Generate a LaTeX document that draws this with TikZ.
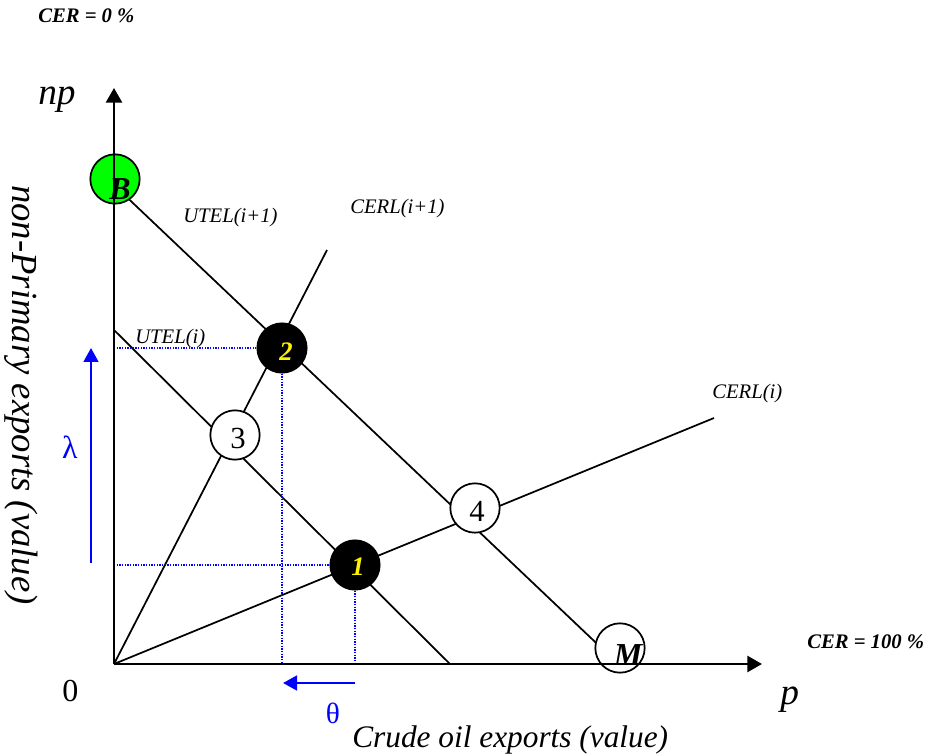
\documentclass[tikz,border=0pt]{standalone}
\usepackage{fontspec}
\setmainfont{Liberation Serif}
\usetikzlibrary{arrows.meta}
\begin{document}
\begin{tikzpicture}[x=0.75pt,y=-0.75pt,
  axis/.style={line width=2pt,-{Triangle[width=12pt,length=11pt]}},
  ln/.style={line width=1.3pt},
  guide/.style={blue,line width=1pt,dash pattern=on 1pt off 1pt},
  shiftarrow/.style={blue,line width=2pt,-{Triangle[width=11pt,length=10.5pt]}},
  pt/.style={circle,draw,line width=1.3pt,minimum size=37pt,inner sep=0pt,fill=white},
  digit/.style={font=\fontsize{23}{25}\selectfont},
  eqtxt/.style={text=yellow,font=\fontsize{20}{22}\selectfont\bfseries\itshape},
  endtxt/.style={font=\fontsize{24}{26}\selectfont\bfseries\itshape},
  lbl/.style={font=\fontsize{15.5}{18}\selectfont\itshape},
  cer/.style={font=\fontsize{15.5}{18}\selectfont\bfseries\itshape},
  big/.style={font=\fontsize{28}{30}\selectfont\itshape},
]
\useasboundingbox (0,0) rectangle (932,755);

% key coordinates
\coordinate (O) at (114,664);
\coordinate (Ytop) at (114,88);
\coordinate (Xend) at (762,664);
\coordinate (UBs) at (115,186);
\coordinate (UMe) at (612,658);
\coordinate (UIs) at (114,330);
\coordinate (UIe) at (450,664);
\coordinate (C1e) at (327,250);
\coordinate (C0e) at (714,418);
\coordinate (Lb) at (91,563);
\coordinate (Lt) at (91,348);
\coordinate (Tr) at (355,683);
\coordinate (Tl) at (283,683);

% lines
\draw[ln] (UBs) -- (UMe);
\draw[ln] (UIs) -- (UIe);
\draw[ln] (O) -- (C1e);
\draw[ln] (O) -- (C0e);

% circles
\node[pt,fill={rgb,255:red,0;green,255;blue,0}] (B) at (115,179) {};
\node[pt] (M) at (620,648) {};
\node[pt,fill=black] (p2) at (282,348) {};
\node[pt,fill=black] (p1) at (355,565) {};
\node[pt] (p3) at (235,435) {};
\node[pt] (p4) at (475,508) {};

\node[endtxt] (Bt) at (120,189) {B};
\node[endtxt] (Mt) at (628,655) {M};
\node[eqtxt] (p2t) at (286,352) {2};
\node[eqtxt] (p1t) at (358,567) {1};
\node[digit] (p3t) at (238,438) {3};
\node[digit] (p4t) at (477,511) {4};

% guides
\draw[guide] (p2 -| O) -- (p2.west);
\draw[guide] (p2.south) -- (p2 |- O);
\draw[guide] (p1 -| O) -- (p1.west);
\draw[guide] (p1.south) -- (p1 |- O);

% axes
\draw[axis] (O) -- (Ytop);
\draw[axis] (O) -- (Xend);

% shift arrows
\draw[shiftarrow] (Lb) -- (Lt);
\draw[shiftarrow] (Tr) -- (Tl);
\node[blue,font=\fontsize{24}{26}\selectfont] (lam) at (70,447) {λ};
\node[blue,font=\fontsize{22}{24}\selectfont] (th) at (333,713) {θ};

% labels
\node[cer,anchor=west,inner sep=0pt] (cer0) at (38,16) {CER = 0 \%};
\node[cer,anchor=west,inner sep=0pt] (cer100) at (807,642) {CER = 100 \%};
\node[lbl,anchor=west,inner sep=0pt] (ut1) at (183,218) {UTEL(i+1)};
\node[lbl,anchor=west,inner sep=0pt] (ce1) at (350,209) {CERL(i+1)};
\node[lbl,anchor=west,inner sep=0pt] (ut0) at (135,339) {UTEL(i)};
\node[lbl,anchor=west,inner sep=0pt] (ce0) at (712,394) {CERL(i)};

\node[big,anchor=base west,inner sep=0pt] (np) at (38,105) {np};
\node[big,anchor=base west,inner sep=0pt] (pl) at (780,704) {p};
\node[font=\fontsize{24}{26}\selectfont,anchor=base west,inner sep=0pt] (zero) at (62,701) {0};
\node[font=\fontsize{23.5}{26}\selectfont\itshape,anchor=base west,inner sep=0pt] (xl) at (352,747) {Crude oil exports (value)};
\node[font=\fontsize{27.5}{29}\selectfont\itshape,rotate=-90] (yl) at (21,395) {non-Primary exports (value)};
\end{tikzpicture}
\end{document}
